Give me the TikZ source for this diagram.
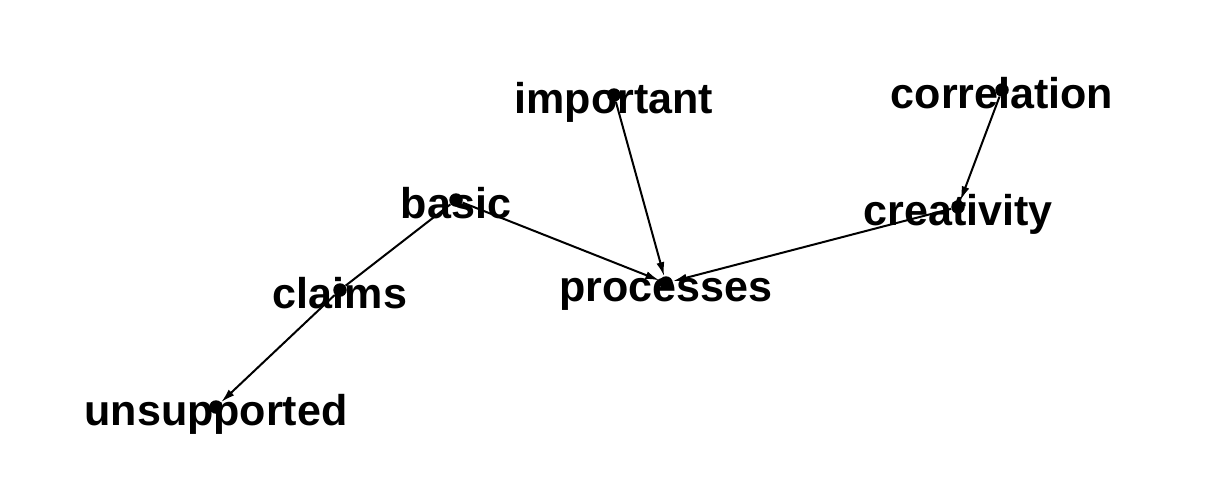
\documentclass[tikz,border=0pt]{standalone}
\usepackage{fontspec}
\setmainfont{Liberation Sans}
\usetikzlibrary{arrows.meta}

\tikzset{
	dot/.style={circle, fill=black, inner sep=0pt, minimum size=0.27cm},
	word/.style={font=\bfseries\fontsize{24.5}{24.5}\selectfont, inner sep=0pt, anchor=base, yshift=-0.37cm},
	edge/.style={line width=0.04cm, -{Latex[length=2.8mm, width=1.6mm]}}
}

\begin{document}
\begin{tikzpicture}
			%%%%% START %%%%%
			\useasboundingbox[fill=white] (0, 0) rectangle (24.16, 9.6);
			
			\node[dot] (important) at (12.28, 7.70) {};
			\node[dot] (correlation) at (20.04, 7.80) {};
			\node[dot] (basic) at (9.12, 5.60) {};
			\node[dot] (creativity) at (19.16, 5.46) {};
			\node[dot] (claims) at (6.80, 3.80) {};
			\node[dot] (processes) at (13.32, 3.94) {};
			\node[dot] (unsupported) at (4.32, 1.46) {};
			
			\node[word] (importantlab) at (important) {important};
			\node[word] (correlationlab) at (correlation) {correlation};
			\node[word] (basiclab) at (basic) {basic};
			\node[word] (creativitylab) at (creativity) {creativity};
			\node[word] (claimslab) at (claims) {claims};
			\node[word] (processeslab) at (processes) {processes};
			\node[word] (unsupportedlab) at (unsupported) {unsupported};
			
			\draw[edge] (important) -- (processes);
			\draw[edge] (basic) -- (processes);
			\draw[edge] (creativity) -- (processes);
			\draw[edge] (correlation) -- (creativity);
			\draw[line width=0.04cm] (basic) -- (claims);
			\draw[edge] (claims) -- (unsupported);
			
			%%%%% END %%%%%
		\end{tikzpicture}
\end{document}
